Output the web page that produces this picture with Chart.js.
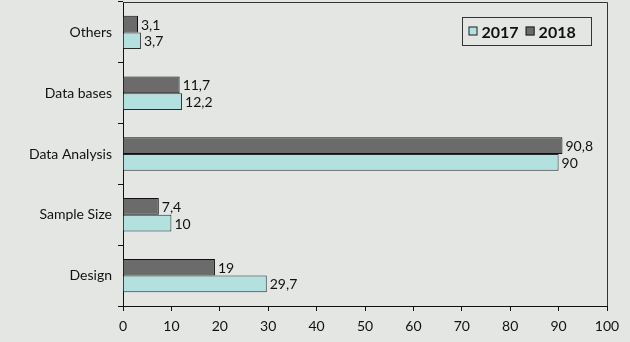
<!DOCTYPE html>
<html>
<head>
<meta charset="utf-8">
<script src="https://cdn.jsdelivr.net/npm/chart.js@4"></script>
<style>
  html, body { margin: 0; padding: 0; background: #e4e6e3; }
  #wrap { width: 630px; height: 342px; }
</style>
</head>
<body>
<div id="wrap"><canvas id="chart"></canvas></div>
<script>
// categories listed bottom-to-top (the y axis is reversed, like Excel)
const categories = ["Design", "Sample Size", "Data Analysis", "Data bases", "Others"];
const values2017 = [29.7, 10, 90, 12.2, 3.7];
const values2018 = [19, 7.4, 90.8, 11.7, 3.1];
const xTicks = [0, 10, 20, 30, 40, 50, 60, 70, 80, 90, 100];

const FONT = "Lato, 'Open Sans', sans-serif";

// value labels at the end of each bar, decimal comma
const barLabels = {
  id: "barLabels",
  afterDatasetsDraw(chart) {
    const ctx = chart.ctx;
    ctx.save();
    ctx.font = "14px " + FONT;
    ctx.fillStyle = "#111";
    ctx.textBaseline = "middle";
    ctx.textAlign = "left";
    chart.data.datasets.forEach((ds, i) => {
      chart.getDatasetMeta(i).data.forEach((bar, j) => {
        const txt = String(ds.data[j]).replace(".", ",");
        ctx.fillText(txt, bar.x + 3, bar.y + 1);
      });
    });
    ctx.restore();
  }
};

// plot frame + legend box inside the plot area
const frameLegend = {
  id: "frameLegend",
  beforeDraw(chart) {
    const ctx = chart.ctx;
    ctx.save();
    ctx.fillStyle = "#e4e6e3";
    ctx.fillRect(0, 0, chart.width, chart.height);
    ctx.restore();
  },
  afterDraw(chart) {
    const { ctx, chartArea: a } = chart;
    ctx.save();
    ctx.strokeStyle = "#333";
    ctx.lineWidth = 1;
    ctx.beginPath();
    ctx.moveTo(a.left, Math.round(a.top) + 0.5);
    ctx.lineTo(Math.round(a.right) + 0.5, Math.round(a.top) + 0.5);
    ctx.lineTo(Math.round(a.right) + 0.5, a.bottom);
    ctx.stroke();

    // legend, 2017 first
    const bx = 462.5, by = 17.5, bw = 129, bh = 28;
    ctx.strokeStyle = "#333";
    ctx.strokeRect(bx, by, bw, bh);
    ctx.font = "bold 16px " + FONT;
    ctx.textBaseline = "middle";
    ctx.textAlign = "left";
    let x = bx + 6;
    chart.data.datasets.slice().reverse().forEach(ds => {
      ctx.fillStyle = ds.backgroundColor;
      ctx.fillRect(x, by + 9, 9, 9);
      ctx.strokeStyle = "#222";
      ctx.strokeRect(x + 0.5, by + 9.5, 8, 8);
      ctx.fillStyle = "#111";
      ctx.fillText(ds.label, x + 13, by + bh / 2 + 1);
      x += 13 + ctx.measureText(ds.label).width + 7;
    });
    ctx.restore();
  }
};

new Chart(document.getElementById("chart"), {
  type: "bar",
  data: {
    labels: categories,
    datasets: [
      { label: "2018", data: values2018, backgroundColor: "#6b6b6b", borderColor: "#111", borderWidth: 1 },
      { label: "2017", data: values2017, backgroundColor: "#b3e1df", borderColor: "#2a2a2a", borderWidth: 1 }
    ]
  },
  options: {
    indexAxis: "y",
    responsive: true,
    maintainAspectRatio: false,
    animation: false,
    layout: { padding: { top: 2, right: 23, bottom: 0, left: 0 } },
    datasets: { bar: { categoryPercentage: 0.55, barPercentage: 1 } },
    plugins: {
      legend: { display: false },
      tooltip: { enabled: false }
    },
    scales: {
      x: {
        min: 0, max: 100,
        afterBuildTicks: s => { s.ticks = xTicks.map(v => ({ value: v })); },
        afterFit: s => { s.height = 36; s.paddingLeft = 0; s.paddingRight = 0; },
        border: { color: "#111", width: 1 },
        grid: { drawOnChartArea: false, tickLength: 5, color: "#111" },
        ticks: { font: { family: FONT, size: 14 }, color: "#111", padding: 7, maxRotation: 0 }
      },
      y: {
        reverse: true,
        afterFit: s => { s.width = 123; s.paddingTop = 0; s.paddingBottom = 0; },
        border: { color: "#111", width: 1 },
        grid: { offset: true, drawOnChartArea: false, tickLength: 5, color: "#111" },
        ticks: { font: { family: FONT, size: 14 }, color: "#111", padding: 6 }
      }
    }
  },
  plugins: [frameLegend, barLabels]
});
</script>
</body>
</html>
